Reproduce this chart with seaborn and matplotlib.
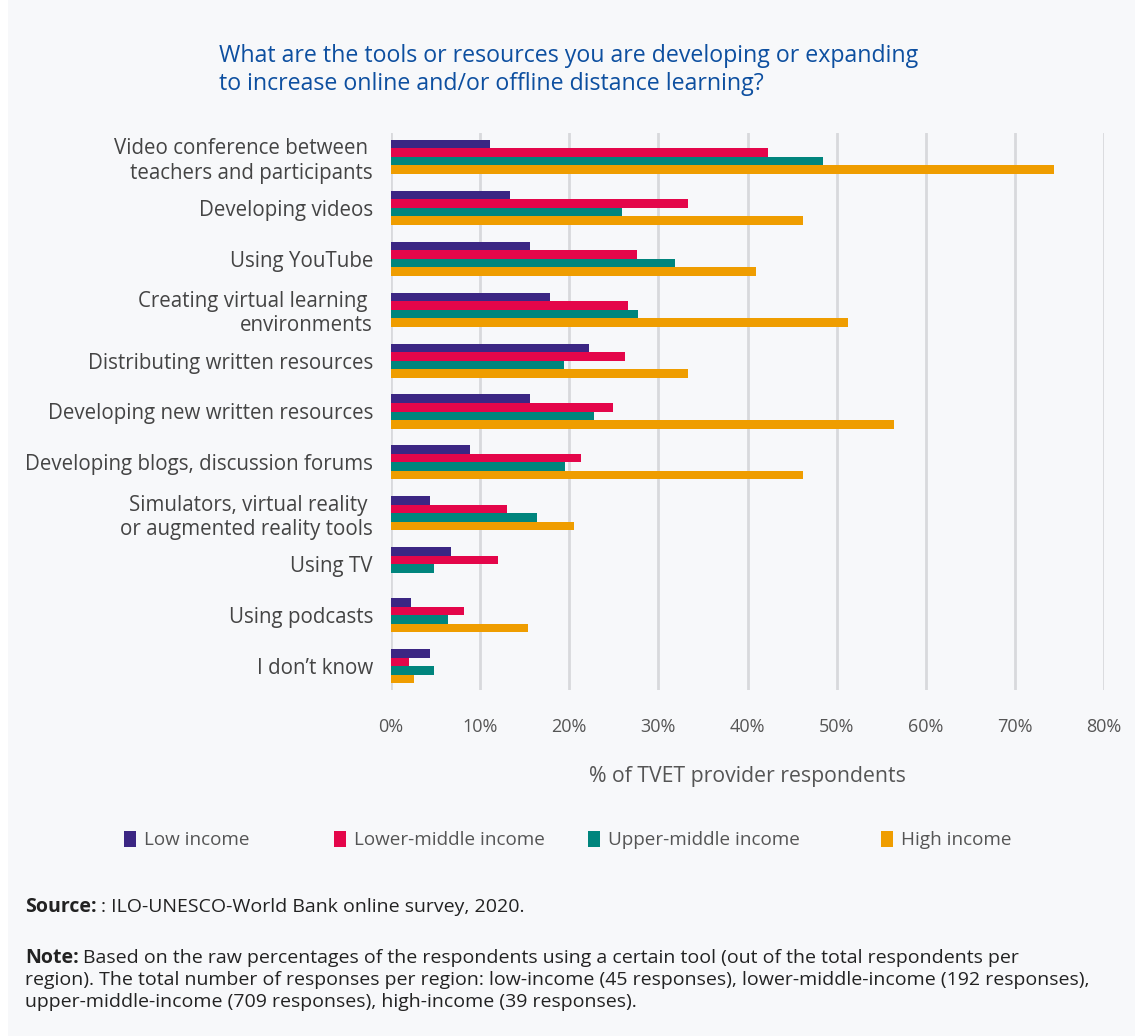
import matplotlib
matplotlib.use("Agg")
import matplotlib.pyplot as plt
from matplotlib.patches import Rectangle, Patch
import pandas as pd
import seaborn as sns

tools = [
    "Video conference between \nteachers and participants",
    "Developing videos",
    "Using YouTube",
    "Creating virtual learning \nenvironments",
    "Distributing written resources",
    "Developing new written resources",
    "Developing blogs, discussion forums",
    "Simulators, virtual reality \nor augmented reality tools",
    "Using TV",
    "Using podcasts",
    "I don\u2019t know",
]
groups = ["Low income", "Lower-middle income", "Upper-middle income", "High income"]

low_income = [11.1, 13.3, 15.6, 17.8, 22.2, 15.6, 8.9, 4.4, 6.7, 2.2, 4.4]
lower_middle = [42.3, 33.3, 27.6, 26.6, 26.2, 24.9, 21.3, 13.0, 12.0, 8.2, 2.0]
upper_middle = [48.5, 25.9, 31.9, 27.7, 19.4, 22.8, 19.5, 16.4, 4.8, 6.4, 4.8]
high_income = [74.4, 46.2, 41.0, 51.3, 33.3, 56.4, 46.2, 20.5, 0.0, 15.4, 2.6]

colors = ["#3b2683", "#e4064a", "#00857d", "#ef9d00"]

rows = []
for g, vals in zip(groups, [low_income, lower_middle, upper_middle, high_income]):
    for t, v in zip(tools, vals):
        rows.append({"tool": t, "group": g, "pct": v})
df = pd.DataFrame(rows)

BG = "#f7f8fa"
sns.set_theme(style="white")
plt.rcParams["font.family"] = ["Open Sans", "Noto Sans", "DejaVu Sans"]

W, H = 1135, 1036
fig = plt.figure(figsize=(W / 100, H / 100), dpi=100)
fig.patch.set_facecolor("white")
fig.patches.append(Rectangle((8 / W, 0), 1, 1, transform=fig.transFigure,
                             facecolor=BG, edgecolor="none", zorder=-10))

ax = fig.add_axes([391 / W, 1 - 690 / H, (1104 - 391) / W, (690 - 133) / H])
ax.set_facecolor(BG)

sns.barplot(data=df, y="tool", x="pct", hue="group", order=tools, hue_order=groups,
            palette=colors, orient="h", width=0.67, saturation=1, ax=ax,
            edgecolor="none", legend=False, errorbar=None)

ax.set_xlim(0, 80)
ax.set_ylim(10.47, -0.47)
ax.set_xticks(range(0, 81, 10))
ax.set_xticklabels([f"{v}%" for v in range(0, 81, 10)], fontsize=13, color="#555555")
ax.tick_params(axis="x", length=0, pad=20)
ax.tick_params(axis="y", length=0, pad=13, labelsize=14.8, labelcolor="#444444")
ax.xaxis.grid(True, color="#d8d9dc", linewidth=2)
ax.set_axisbelow(True)
for s in ax.spines.values():
    s.set_visible(False)
ax.set_ylabel("")
ax.set_xlabel("% of TVET provider respondents", fontsize=15.3, color="#555555", labelpad=22)

fig.text(219 / W, 1 - 70 / H,
         "What are the tools or resources you are developing or expanding\nto increase online and/or offline distance learning?",
         fontsize=16.7, color="#0d4fa0", ha="left", va="center", linespacing=1.25)

# legend entries placed individually along one row
legend_x = [124, 334, 588, 881]
for x, g, c in zip(legend_x, groups, colors):
    fig.legend(handles=[Patch(facecolor=c, edgecolor="none")], labels=[g],
               loc="center left", bbox_to_anchor=(x / W, 1 - 840 / H),
               frameon=False, fontsize=13.6, handlelength=0.65, handleheight=0.9,
               handletextpad=0.4, borderaxespad=0, borderpad=0,
               labelcolor="#555555")

fig.canvas.draw()
renderer = fig.canvas.get_renderer()
FOOT = 14


def label_line(y_px, bold, rest, size=FOOT):
    """Draw a bold lead-in followed by regular text on one line."""
    t = fig.text(25 / W, 1 - y_px / H, bold, fontsize=size, color="#222222",
                 ha="left", va="center", fontweight="bold")
    bb = t.get_window_extent(renderer)
    fig.text(bb.x1 / W + 4 / W, 1 - y_px / H, rest, fontsize=size, color="#222222",
             ha="left", va="center")


label_line(907, "Source:", ": ILO-UNESCO-World Bank online survey, 2020.")
label_line(958, "Note:",
           "Based on the raw percentages of the respondents using a certain tool (out of the total respondents per")
fig.text(25 / W, 1 - 980 / H,
         "region). The total number of responses per region: low-income (45 responses), lower-middle-income (192 responses),",
         fontsize=FOOT, color="#222222", ha="left", va="center")
fig.text(25 / W, 1 - 1002 / H,
         "upper-middle-income (709 responses), high-income (39 responses).",
         fontsize=FOOT, color="#222222", ha="left", va="center")

fig.savefig("out.png", dpi=100, facecolor=fig.get_facecolor())
